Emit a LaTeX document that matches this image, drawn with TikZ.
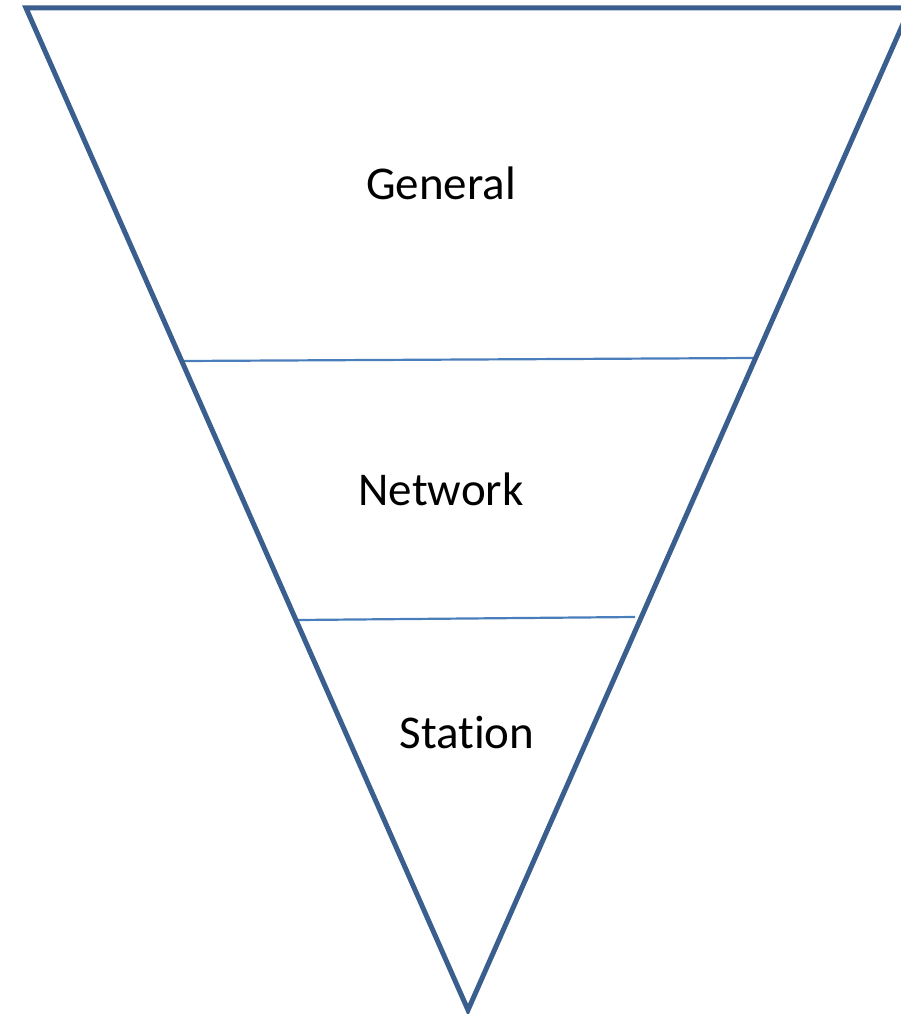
\documentclass[tikz,border=0pt]{standalone}
\usepackage{fontspec}
\setmainfont[Ligatures=NoCommon]{Carlito}
\definecolor{edgeblue}{HTML}{3A5F8E}
\definecolor{lineblue}{HTML}{4A7EBB}
\begin{document}
\begin{tikzpicture}[x=1pt,y=-1pt,
  outline/.style={draw=edgeblue,line width=5pt,line join=miter},
  divider/.style={draw=lineblue,line width=2.2pt},
  label/.style={font=\fontsize{47}{50}\selectfont,anchor=base,inner sep=0pt,text=black}]
\useasboundingbox (0,0) rectangle (901,1014);
\clip (0,0) rectangle (901,1014);
\coordinate (tl) at (26,8);
\coordinate (tr) at (910,8);
\coordinate (bt) at (468,1010);
\coordinate (a1) at (183,361);
\coordinate (b1) at (755,358);
\coordinate (a2) at (298,620);
\coordinate (b2) at (635,617);
\draw[divider] (a1) -- (b1);
\draw[divider] (a2) -- (b2);
\draw[outline] (tl) -- (tr) -- (bt) -- cycle;
\node[label] (general) at (441,199) {General};
\node[label] (network) at (441,505) {Network};
\node[label] (station) at (467,748) {Station};
\end{tikzpicture}
\end{document}
